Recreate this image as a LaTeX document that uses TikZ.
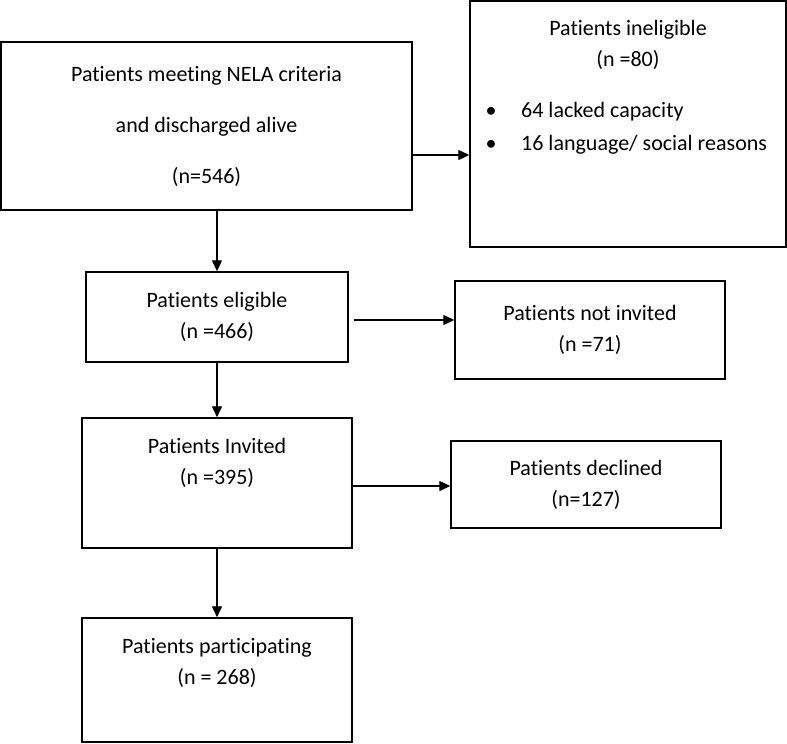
\documentclass[tikz,border=0pt]{standalone}
\usepackage{fontspec}
\setmainfont{Carlito}[Ligatures=NoCommon]
\usetikzlibrary{arrows.meta}

\begin{document}
\begin{tikzpicture} [
        x = 1pt, y = -1pt,
        font = \fontsize{22}{31}\selectfont,
        box/.style = { draw, line width = 1.4pt, inner sep = 0, align = center },
        arr/.style = { line width = 1.3pt, -{Triangle[length = 11pt, width = 10pt]} }
        ]
        \useasboundingbox (0,0) rectangle (787,744);

        \node [box, minimum width = 411pt, minimum height = 168pt, font = \fontsize{22}{51}\selectfont] (nela) at (206.5,126) {Patients meeting NELA criteria\\and discharged alive\\(n=546)};
        \node [box, minimum width = 316pt, minimum height = 246pt] (inelig) at (628,124) {};
        \node [align = center] (ineligtxt) at ([yshift = -45pt]inelig.north) {Patients ineligible\\(n =80)};
        \node [anchor = west, inner sep = 0, align = left, font = \fontsize{22}{33}\selectfont] (reasons) at (485.5,128.5) {\makebox[35.5pt][l]{•}64 lacked capacity\\\makebox[35.5pt][l]{•}16 language/ social reasons};
        \node [box, minimum width = 262pt, minimum height = 90pt] (elig) at (217,317) {Patients eligible\\(n =466)};
        \node [box, minimum width = 270pt, minimum height = 98pt] (notinv) at (590,330) {Patients not invited\\(n =71)};
        \node [box, minimum width = 270pt, minimum height = 130pt] (invited) at (217,483) {};
        \node [align = center] (invitedtxt) at ([yshift = -46pt]invited.north) {Patients Invited\\(n =395)};
        \node [box, minimum width = 270pt, minimum height = 87pt] (declined) at (586,484.5) {Patients declined\\(n=127)};
        \node [box, minimum width = 270pt, minimum height = 124pt] (partic) at (217,680) {};
        \node [align = center] (partictxt) at ([yshift = -46pt]partic.north) {Patients participating\\(n = 268)};

        \draw [arr] ([yshift = -29pt]nela.east) -- ([yshift = -29pt]nela.east -| inelig.west);
        \draw [arr] (elig.north |- nela.south) -- (elig.north);
        \draw [arr] ([xshift = 5pt, yshift = -3pt]elig.east) -- ([yshift = -3pt]elig.east -| notinv.west);
        \draw [arr] (elig.south) -- (invited.north);
        \draw [arr] ([yshift = -3pt]invited.east) -- ([yshift = -3pt]invited.east -| declined.west);
        \draw [arr] (invited.south) -- (partic.north);
    \end{tikzpicture}
\end{document}
